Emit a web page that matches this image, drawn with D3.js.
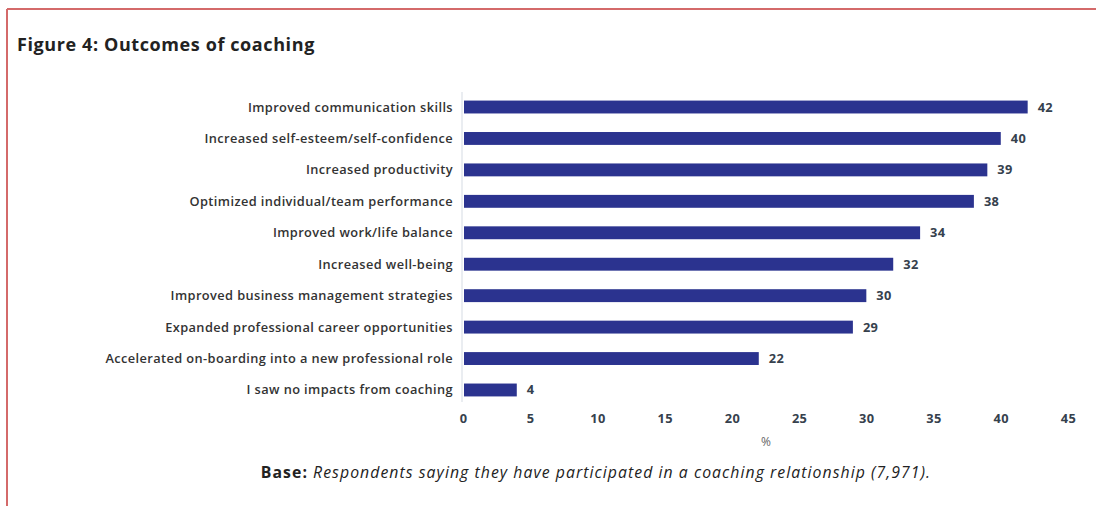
<!DOCTYPE html>
<html>
<head>
<meta charset="utf-8">
<script src="https://cdn.jsdelivr.net/npm/d3@7"></script>
<style>
  body { margin: 0; background: #fff; }
  svg { font-family: "Open Sans", sans-serif; }
</style>
</head>
<body>
<svg width="1096" height="506"></svg>
<script>
var categories = [
  "Improved communication skills",
  "Increased self-esteem/self-confidence",
  "Increased productivity",
  "Optimized individual/team performance",
  "Improved work/life balance",
  "Increased well-being",
  "Improved business management strategies",
  "Expanded professional career opportunities",
  "Accelerated on-boarding into a new professional role",
  "I saw no impacts from coaching"
];
var values = [42, 40, 39, 38, 34, 32, 30, 29, 22, 4];
var ticks = [0, 5, 10, 15, 20, 25, 30, 35, 40, 45];

var svg = d3.select('svg');

// frame
svg.append('line').attr('x1', 7).attr('x2', 1096).attr('y1', 9).attr('y2', 9)
   .attr('stroke', '#d46a6a').attr('stroke-width', 2);
svg.append('line').attr('x1', 7).attr('x2', 7).attr('y1', 9).attr('y2', 506)
   .attr('stroke', '#d46a6a').attr('stroke-width', 2);

svg.append('text').attr('x', 17).attr('y', 51)
   .text('Figure 4: Outcomes of coaching')
   .attr('font-size', 18).attr('font-weight', 700).attr('letter-spacing', 0.6).attr('fill', '#222');

var x = d3.scaleLinear().domain([0, 45]).range([463, 1068]);
var y = d3.scaleBand().domain(categories).range([91.3, 405.7]).paddingInner(0.59).paddingOuter(0.295);

// left axis line
svg.append('line').attr('x1', 462).attr('x2', 462).attr('y1', 92).attr('y2', 402)
   .attr('stroke', '#d5dbe3').attr('stroke-width', 1);

svg.selectAll('rect.bar')
   .data(values)
   .enter()
   .append('rect')
   .attr('class', 'bar')
   .attr('x', x(0) + 1)
   .attr('y', function(d, i) { return y(categories[i]); })
   .attr('width', function(d) { return x(d) - x(0) - 1; })
   .attr('height', y.bandwidth())
   .attr('fill', '#2b338f');

svg.selectAll('text.cat')
   .data(categories)
   .enter()
   .append('text')
   .attr('class', 'cat')
   .attr('x', 453)
   .attr('y', function(d) { return y(d) + y.bandwidth() / 2; })
   .attr('dy', '0.35em')
   .attr('text-anchor', 'end')
   .attr('font-size', 12.8)
   .attr('font-weight', 600)
   .attr('letter-spacing', 0.4)
   .attr('fill', '#333')
   .text(function(d) { return d; });

svg.selectAll('text.val')
   .data(values)
   .enter()
   .append('text')
   .attr('class', 'val')
   .attr('x', function(d) { return x(d) + 10; })
   .attr('y', function(d, i) { return y(categories[i]) + y.bandwidth() / 2; })
   .attr('dy', '0.35em')
   .attr('font-size', 12.8)
   .attr('font-weight', 700)
   .attr('letter-spacing', 0.4)
   .attr('fill', '#36414d')
   .text(function(d) { return d; });

var xAxis = d3.axisBottom(x).tickValues(ticks).tickSize(0).tickPadding(0);
var g = svg.append('g').attr('transform', 'translate(0,414)').call(xAxis);
g.select('.domain').remove();
g.selectAll('text')
   .attr('font-family', '"Open Sans", sans-serif')
   .attr('font-size', 12.8)
   .attr('font-weight', 700)
   .attr('letter-spacing', 0.4)
   .attr('fill', '#36414d');

svg.append('text').attr('x', 766).attr('y', 446).attr('text-anchor', 'middle')
   .attr('font-size', 12).attr('fill', '#666').text('%');

var base = svg.append('text').attr('x', 596).attr('y', 478).attr('text-anchor', 'middle')
   .attr('font-size', 15.8).attr('letter-spacing', 1.05).attr('fill', '#222');
base.append('tspan').attr('font-weight', 700).text('Base: ');
base.append('tspan').attr('font-style', 'italic')
   .text('Respondents saying they have participated in a coaching relationship (7,971).');
</script>
</body>
</html>
